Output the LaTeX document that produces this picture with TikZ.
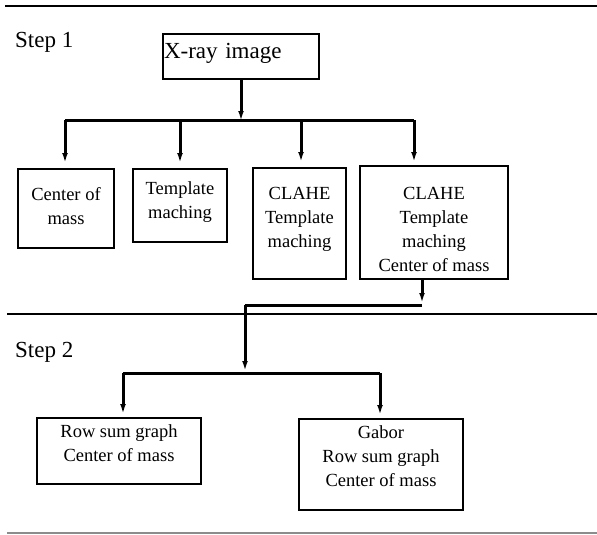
\documentclass[tikz,border=0pt]{standalone}
\usepackage{fontspec}
\setmainfont{Liberation Serif}
\usetikzlibrary{arrows.meta, positioning}

\begin{document}
\begin{tikzpicture}[
    x=1pt, y=-1pt,
    box/.style={draw, line width=1.9pt, align=center, inner sep=0pt,
        font=\fontsize{18.5}{24}\selectfont, text depth=5pt},
    arrow/.style={-{Latex[length=12pt,width=5.5pt]}, line width=3pt},
    link/.style={line width=3pt},
    rule/.style={line width=2pt},
    steplabel/.style={anchor=base west, inner sep=0pt, font=\fontsize{23}{28}\selectfont}
]
\useasboundingbox (0,0) rectangle (597,535);

% Separators
\draw[rule, line width=2.8pt] (5,6) -- (597,6);
\draw[rule] (7,314) -- (597,314);
\draw[rule, draw=black!45] (7,533) -- (597,533);

% Step labels
\node[steplabel] (s1) at (15,48) {Step 1};
\node[steplabel] (s2) at (15,357) {Step 2};

% Input
\node[box, text width=154pt, inner xsep=1pt, align=left, minimum height=45pt,
    font=\fontsize{23}{28}\selectfont, text height=16pt, text depth=12.4pt]
    (xray) at (241,56.5) {X-ray image};

% Step 1 methods
\node[box, minimum width=96pt, minimum height=79pt, text height=36pt] (cmass) at (66,208.5) {Center of\\mass};
\node[box, minimum width=94pt, minimum height=73pt, text height=30pt] (tmatch) at (180,205.5) {Template\\maching};
\node[box, minimum width=93pt, minimum height=111pt, text height=52pt] (clahe) at (299.5,223.5) {CLAHE\\Template\\maching};
\node[box, minimum width=148pt, minimum height=113pt, text height=103.4pt] (full) at (434,222.5) {CLAHE\\Template\\maching\\Center of mass};

% Step 2 methods
\node[box, minimum width=164pt, minimum height=66pt, text height=26.4pt] (rowsum) at (119,451) {Row sum graph\\Center of mass};
\node[box, minimum width=164pt, minimum height=91pt, text height=49.4pt] (gabor) at (381,464.5) {Gabor\\Row sum graph\\Center of mass};

% Branch points
\coordinate (hub) at (241,123);
\coordinate (f1) at (65,120);
\coordinate (f2) at (180,120);
\coordinate (f3) at (301,120);
\coordinate (f4) at (414,120);
\coordinate (j1) at (422,305);
\coordinate (j2) at (245,305);
\coordinate (j3) at (245,373);
\coordinate (g1) at (123,373);
\coordinate (g2) at (380,373);

% Step 1 flows
\draw[arrow] (xray.south) -- (hub);
\draw[link] (f1) -- (f4);
\draw[arrow, shorten >=3pt] (f1) -- (f1 |- cmass.north);
\draw[arrow, shorten >=3pt] (f2) -- (f2 |- tmatch.north);
\draw[arrow, shorten >=3pt] (f3) -- (f3 |- clahe.north);
\draw[arrow, shorten >=1pt] (f4) -- (f4 |- full.north);

% Into step 2
\draw[arrow] (full.south -| j1) -- (j1);
\draw[link] (j1) -- (j2);
\draw[arrow] (j2) -- (j3);
\draw[link] (g1) -- (g2);
\draw[arrow, shorten >=1pt] (g1) -- (g1 |- rowsum.north);
\draw[arrow, shorten >=1pt] (g2) -- (g2 |- gabor.north);

\end{tikzpicture}
\end{document}
